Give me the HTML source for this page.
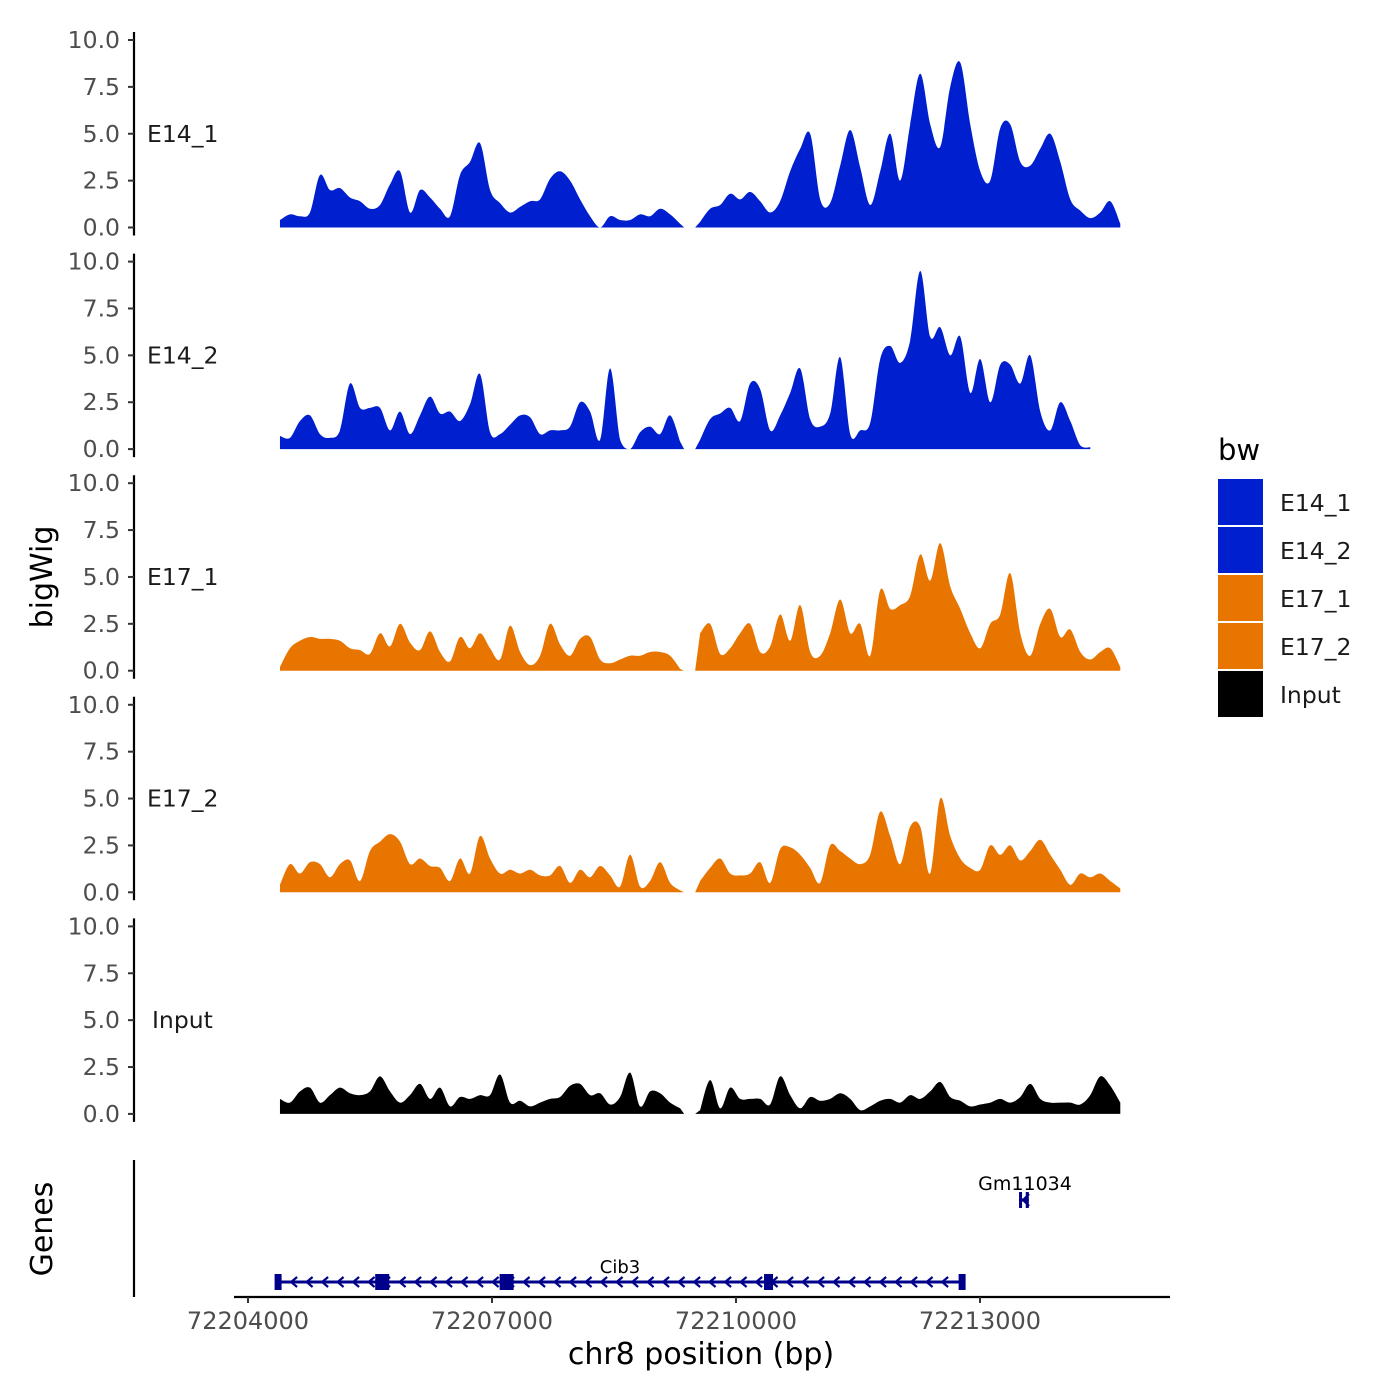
<!DOCTYPE html>
<html><head><meta charset="utf-8"><style>
html,body{margin:0;padding:0;background:#fff}
svg{display:block;font-family:"DejaVu Sans","Liberation Sans",sans-serif}
</style></head><body>
<svg id="chart" width="1400" height="1400" viewBox="0 0 1400 1400" xmlns="http://www.w3.org/2000/svg"></svg>
<script>
// ---- data ----
const binStart = 72204393;   // first bin position (bp)
const binStep = 123;         // bin width (bp)
const trackNames = ["E14_1","E14_2","E17_1","E17_2","Input"];
const trackColors = ["#0020D0","#0020D0","#E87500","#E87500","#000000"];
const yTicks = [0, 2.5, 5, 7.5, 10];
const yTickLabels = ["0.0","2.5","5.0","7.5","10.0"];
const xTicks = [72204000, 72207000, 72210000, 72213000];
const xTickLabels = ["72204000","72207000","72210000","72213000"];
const n = null;
const e14_1 = [0.4,0.7,0.6,0.8,2.8,2.0,2.1,1.6,1.4,1.0,1.2,2.3,3.0,0.8,2.0,1.6,1.0,0.6,2.8,3.5,4.5,2.0,1.3,0.8,1.1,1.4,1.5,2.6,3.0,2.5,1.5,0.6,0.0,0.6,0.4,0.4,0.7,0.6,1.0,0.7,0.2,n,0.3,1.0,1.2,1.8,1.5,1.9,1.4,0.8,1.4,3.0,4.2,5.0,1.5,1.3,3.3,5.2,3.2,1.2,3.0,5.0,2.5,5.5,8.2,5.5,4.3,7.5,8.8,5.5,3.0,2.5,5.3,5.5,3.5,3.3,4.2,5.0,3.5,1.5,0.9,0.5,0.8,1.4,0.2];
const e14_2 = [0.7,0.6,1.5,1.8,0.8,0.6,1.0,3.5,2.2,2.2,2.2,1.0,2.0,0.8,1.8,2.8,1.9,2.0,1.5,2.4,4.0,0.9,0.8,1.3,1.8,1.7,0.8,1.0,1.0,1.2,2.5,2.0,0.5,4.3,0.5,0.0,0.9,1.2,0.8,1.8,0.4,n,0.5,1.6,1.9,2.2,1.5,3.5,3.2,1.0,1.8,3.0,4.3,1.6,1.2,1.9,4.9,0.8,1.0,1.4,4.8,5.5,4.6,5.8,9.5,6.0,6.5,5.0,6.0,3.0,4.8,2.5,4.5,4.5,3.5,5.0,2.0,1.0,2.5,1.5,0.2,0.1,n,n,n];
const e17_1 = [0.2,1.2,1.6,1.8,1.7,1.7,1.6,1.2,1.1,0.9,2.0,1.3,2.5,1.5,1.1,2.1,1.0,0.5,1.8,1.2,2.0,1.2,0.6,2.4,1.0,0.3,0.8,2.5,1.4,0.8,1.7,1.8,0.6,0.4,0.6,0.8,0.8,1.0,1.0,0.8,0.1,n,2.0,2.5,0.9,1.2,2.0,2.5,1.0,1.3,3.0,1.6,3.5,1.0,0.8,2.0,3.8,2.0,2.5,0.8,4.3,3.3,3.5,4.0,6.2,4.8,6.8,4.5,3.3,2.0,1.2,2.5,3.0,5.2,2.0,0.8,2.5,3.3,1.8,2.2,1.0,0.6,1.0,1.2,0.2];
const e17_2 = [0.4,1.5,1.0,1.6,1.5,0.8,1.5,1.7,0.6,2.2,2.7,3.1,2.7,1.5,1.8,1.4,1.3,0.6,1.8,1.0,3.0,1.8,1.0,1.2,1.0,1.2,0.9,0.9,1.4,0.5,1.2,0.8,1.4,0.9,0.3,2.0,0.3,0.6,1.6,0.5,0.1,n,0.6,1.3,1.8,1.0,0.9,1.0,1.6,0.5,2.3,2.4,2.0,1.3,0.5,2.5,2.2,1.8,1.5,2.0,4.3,3.0,1.5,3.5,3.5,1.0,5.0,3.0,1.8,1.3,1.2,2.5,2.0,2.5,1.7,2.2,2.8,2.0,1.2,0.4,1.0,0.8,1.0,0.6,0.2];
const input = [0.8,0.6,1.2,1.4,0.6,1.0,1.4,1.1,1.0,1.2,2.0,1.2,0.6,1.0,1.6,0.8,1.4,0.4,0.9,0.8,1.0,1.0,2.1,0.6,0.7,0.4,0.6,0.8,0.9,1.5,1.6,1.0,1.1,0.5,0.9,2.2,0.4,1.2,1.1,0.6,0.3,n,0.2,1.8,0.3,1.4,0.8,0.8,0.8,0.5,2.0,1.0,0.3,0.9,0.7,0.8,1.1,0.8,0.2,0.4,0.7,0.8,0.6,1.0,0.8,1.2,1.7,0.9,0.7,0.4,0.5,0.6,0.8,0.6,0.9,1.6,0.8,0.6,0.6,0.6,0.5,1.0,2.0,1.5,0.6];
const series = [e14_1, e14_2, e17_1, e17_2, input];
const geneCib3 = {start: 72204370, end: 72212780, exons: [72204370, 72205650, 72207180, 72210400, 72212780], label: "Cib3"};
const geneGm = {start: 72213480, end: 72213600, label: "Gm11034"};

// ---- scales ----
const svg = document.getElementById('chart');
const NS = "http://www.w3.org/2000/svg";
const xS = bp => 248 + (bp - 72204000) * (244/3000);
const panelTop0 = 40, panelPitch = 221.6, pxPerUnit = 18.75;
const yS = (p, v) => panelTop0 + p*panelPitch + (10 - v) * pxPerUnit;
function el(tag, attrs, parent){const e=document.createElementNS(NS,tag);for(const k in attrs)e.setAttribute(k,attrs[k]);(parent||svg).appendChild(e);return e;}

// ---- tracks ----
series.forEach((vals, p) => {
  const g = el('g', {});
  
  
  const base = yS(p, 0);
  let segs = [], cur = [];
  vals.forEach((v,i) => { if (v === null) { if (cur.length) segs.push(cur); cur = []; } else cur.push([xS(binStart + i*binStep), yS(p, v)]); });
  if (cur.length) segs.push(cur);
  segs.forEach((s, si) => {
    const x0 = s[0][0] - (si > 0 ? 5 : 0);
    const xe = s[s.length-1][0] + (si === 0 ? 4 : 0);
    let d = `M${x0},${base}L${s[0][0]},${s[0][1]}`;
    for (let i=0;i<s.length-1;i++){
      const p0=s[Math.max(i-1,0)],p1=s[i],p2=s[i+1],p3=s[Math.min(i+2,s.length-1)];
      const c1x=p1[0]+(p2[0]-p0[0])/6, c1y=Math.min(base,p1[1]+(p2[1]-p0[1])/6);
      const c2x=p2[0]-(p3[0]-p1[0])/6, c2y=Math.min(base,p2[1]-(p3[1]-p1[1])/6);
      d += `C${c1x},${c1y} ${c2x},${c2y} ${p2[0]},${p2[1]}`;
    }
    d += `L${xe},${base}Z`;
    const a = el('path', {d, fill: trackColors[p]}, g);
    
    
  });
  const ax = el('line', {x1:134,x2:134,y1:yS(p,10)-8,y2:base+8,stroke:'#000','stroke-width':2.2});
  
  
  yTicks.forEach((t,k) => {
    const y = yS(p,t);
    el('line',{x1:128,x2:134,y1:y,y2:y,stroke:'#333','stroke-width':2});
    const tx = el('text',{x:120,y:y+8,'text-anchor':'end','font-size':23.5,fill:'#4d4d4d'});
    tx.textContent = yTickLabels[k];
    
    
  });
  const lab = el('text',{x: p===4?152:147, y: yS(p,5)+8,'font-size':23.5,fill:'#1a1a1a'});
  lab.textContent = trackNames[p];
  
  
});

// ---- gene track ----
const ga = el('line',{x1:134,x2:134,y1:1160,y2:1297,stroke:'#000','stroke-width':2.2});


const xa = el('line',{x1:234,x2:1170,y1:1297,y2:1297,stroke:'#000','stroke-width':2.2});


xTicks.forEach((t,k) => {
  const x = xS(t);
  el('line',{x1:x,x2:x,y1:1297,y2:1303,stroke:'#333','stroke-width':2});
  const tx = el('text',{x, y:1329,'text-anchor':'middle','font-size':24,fill:'#4d4d4d'});
  tx.textContent = xTickLabels[k];
  
  
});
const gc = '#00008B';
const g1 = el('g',{});


const gy = 1282;
el('line',{x1:xS(geneCib3.start),x2:xS(geneCib3.end),y1:gy,y2:gy,stroke:gc,'stroke-width':3},g1);
for (let x = xS(geneCib3.start)+15; x < xS(geneCib3.end)-8; x += 15.5) {
  el('path',{d:`M${x+4},${gy-5}L${x-2},${gy}L${x+4},${gy+5}`,fill:'none',stroke:gc,'stroke-width':2.2},g1);
}
geneCib3.exons.forEach((e,k) => {
  const x = xS(e); const w = (k===0||k===geneCib3.exons.length-1)?7:(k===3?9:14);
  el('rect',{x:x-w/2,y:gy-8,width:w,height:16,fill:gc},g1);
});
const cl = el('text',{x:620,y:1273,'text-anchor':'middle','font-size':18,fill:'#000'},g1);
cl.textContent = geneCib3.label;
const g2 = el('g',{});


const gx1 = xS(geneGm.start), gx2 = xS(geneGm.end);
el('line',{x1:gx1,x2:gx2,y1:1200,y2:1200,stroke:gc,'stroke-width':3},g2);
el('rect',{x:gx1,y:1192,width:3,height:16,fill:gc},g2);
el('rect',{x:gx2-3,y:1192,width:3,height:16,fill:gc},g2);
el('path',{d:`M${gx1+10},1194L${gx1+4},1200L${gx1+10},1206`,fill:'none',stroke:gc,'stroke-width':2.2},g2);
const gl = el('text',{x:1025,y:1190,'text-anchor':'middle','font-size':19,fill:'#000'},g2);
gl.textContent = geneGm.label;

// ---- titles ----
function rotText(x,y,s,name){const t=el('text',{x,y,transform:`rotate(-90 ${x} ${y})`,'text-anchor':'middle','font-size':30,fill:'#000'});t.textContent=s;}
rotText(52,577,'bigWig','y-axis-title');
rotText(52,1229,'Genes','gene-track-title');
const xt = el('text',{x:701,y:1364,'text-anchor':'middle','font-size':30,fill:'#000'});
xt.textContent = 'chr8 position (bp)';



// ---- legend ----
const lg = el('g',{});


const lt = el('text',{x:1218,y:460,'font-size':29,fill:'#000'},lg);
lt.textContent = 'bw';
trackNames.forEach((nm,k) => {
  const e = el('g',{},lg);
  
  
  el('rect',{x:1218,y:479+k*48,width:45,height:46,fill:trackColors[k]},e);
  const t = el('text',{x:1280,y:511+k*48,'font-size':23.5,fill:'#1a1a1a'},e);
  t.textContent = nm;
});
</script>
</body></html>
